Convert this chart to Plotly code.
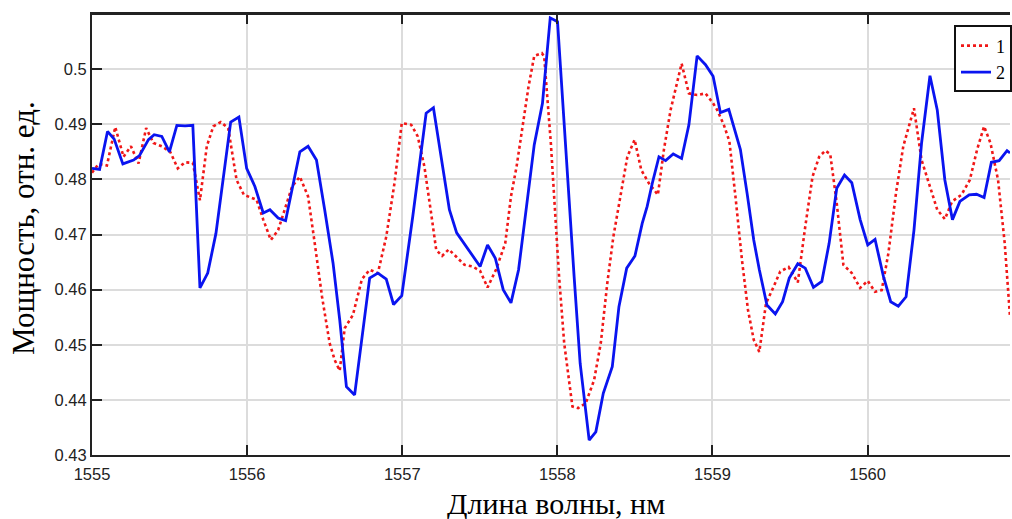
import plotly.graph_objects as go

# Curve 1 (red, dotted): wavelength, nm / power, rel. units
wl_1 = [1555.000, 1555.042, 1555.096, 1555.150, 1555.203, 1555.251, 1555.300, 1555.349,
        1555.396, 1555.450, 1555.504, 1555.553, 1555.600, 1555.650, 1555.696, 1555.740,
        1555.782, 1555.830, 1555.878, 1555.932, 1555.979, 1556.061, 1556.104, 1556.153,
        1556.200, 1556.243, 1556.290, 1556.340, 1556.393, 1556.436, 1556.483, 1556.532,
        1556.565, 1556.597, 1556.629, 1556.682, 1556.740, 1556.790, 1556.843, 1556.897,
        1556.950, 1556.997, 1557.058, 1557.100, 1557.143, 1557.186, 1557.219, 1557.257,
        1557.300, 1557.347, 1557.401, 1557.454, 1557.502, 1557.550, 1557.604, 1557.664,
        1557.701, 1557.737, 1557.776, 1557.814, 1557.851, 1557.900, 1557.915, 1557.958,
        1558.011, 1558.044, 1558.097, 1558.134, 1558.183, 1558.237, 1558.280, 1558.322,
        1558.361, 1558.408, 1558.451, 1558.498, 1558.541, 1558.590, 1558.648, 1558.687,
        1558.730, 1558.801, 1558.848, 1558.901, 1558.955, 1559.004, 1559.030, 1559.073,
        1559.109, 1559.148, 1559.190, 1559.229, 1559.266, 1559.302, 1559.345, 1559.394,
        1559.437, 1559.491, 1559.550, 1559.598, 1559.645, 1559.688, 1559.727, 1559.759,
        1559.801, 1559.844, 1559.898, 1559.952, 1560.001, 1560.048, 1560.091, 1560.134,
        1560.183, 1560.230, 1560.299, 1560.348, 1560.402, 1560.449, 1560.498, 1560.545,
        1560.605, 1560.659, 1560.706, 1560.751, 1560.792, 1560.841, 1560.884, 1560.918]
pw_1 = [0.4812, 0.4828, 0.4825, 0.4895, 0.4841, 0.4860, 0.4829, 0.4893,
        0.4866, 0.4860, 0.4850, 0.4820, 0.4831, 0.4830, 0.4762, 0.4860,
        0.4896, 0.4904, 0.4893, 0.4799, 0.4772, 0.4763, 0.4727, 0.4690,
        0.4708, 0.4745, 0.4787, 0.4805, 0.4769, 0.4684, 0.4587, 0.4503,
        0.4472, 0.4453, 0.4530, 0.4554, 0.4619, 0.4636, 0.4630, 0.4696,
        0.4793, 0.4902, 0.4899, 0.4878, 0.4823, 0.4739, 0.4672, 0.4661,
        0.4673, 0.4660, 0.4645, 0.4642, 0.4634, 0.4604, 0.4636, 0.4684,
        0.4769, 0.4823, 0.4896, 0.4968, 0.5024, 0.5029, 0.5023, 0.4866,
        0.4624, 0.4503, 0.4388, 0.4385, 0.4394, 0.4436, 0.4503, 0.4612,
        0.4696, 0.4772, 0.4841, 0.4872, 0.4817, 0.4793, 0.4772, 0.4854,
        0.4926, 0.5010, 0.4956, 0.4953, 0.4956, 0.4938, 0.4926, 0.4899,
        0.4869, 0.4769, 0.4654, 0.4563, 0.4509, 0.4487, 0.4575, 0.4605,
        0.4633, 0.4641, 0.4613, 0.4714, 0.4805, 0.4841, 0.4852, 0.4846,
        0.4757, 0.4645, 0.4630, 0.4603, 0.4616, 0.4596, 0.4599, 0.4666,
        0.4775, 0.4860, 0.4929, 0.4835, 0.4787, 0.4745, 0.4728, 0.4760,
        0.4772, 0.4799, 0.4854, 0.4896, 0.4866, 0.4799, 0.4684, 0.4551]

# Curve 2 (blue, solid)
wl_2 = [1555.000, 1555.049, 1555.100, 1555.143, 1555.199, 1555.268, 1555.306, 1555.364,
        1555.401, 1555.450, 1555.499, 1555.547, 1555.600, 1555.650, 1555.696, 1555.746,
        1555.799, 1555.846, 1555.894, 1555.947, 1555.997, 1556.050, 1556.104, 1556.147,
        1556.200, 1556.248, 1556.296, 1556.340, 1556.393, 1556.447, 1556.500, 1556.554,
        1556.597, 1556.640, 1556.693, 1556.740, 1556.790, 1556.843, 1556.897, 1556.944,
        1556.997, 1557.068, 1557.154, 1557.201, 1557.251, 1557.304, 1557.351, 1557.412,
        1557.502, 1557.550, 1557.600, 1557.651, 1557.701, 1557.750, 1557.797, 1557.851,
        1557.904, 1557.954, 1558.001, 1558.065, 1558.108, 1558.147, 1558.205, 1558.248,
        1558.296, 1558.354, 1558.397, 1558.447, 1558.500, 1558.547, 1558.579, 1558.612,
        1558.655, 1558.698, 1558.747, 1558.801, 1558.848, 1558.901, 1558.955, 1559.004,
        1559.051, 1559.105, 1559.137, 1559.180, 1559.223, 1559.266, 1559.302, 1559.351,
        1559.405, 1559.452, 1559.495, 1559.550, 1559.598, 1559.651, 1559.705, 1559.752,
        1559.801, 1559.851, 1559.898, 1559.952, 1560.001, 1560.048, 1560.102, 1560.149,
        1560.198, 1560.248, 1560.299, 1560.348, 1560.402, 1560.449, 1560.498, 1560.547,
        1560.595, 1560.655, 1560.702, 1560.751, 1560.798, 1560.848, 1560.899, 1560.918]
pw_2 = [0.4820, 0.4818, 0.4887, 0.4873, 0.4828, 0.4835, 0.4843, 0.4872,
        0.4881, 0.4878, 0.4850, 0.4898, 0.4897, 0.4898, 0.4603, 0.4630,
        0.4702, 0.4805, 0.4904, 0.4913, 0.4820, 0.4787, 0.4739, 0.4745,
        0.4730, 0.4725, 0.4787, 0.4850, 0.4860, 0.4835, 0.4745, 0.4648,
        0.4545, 0.4424, 0.4409, 0.4515, 0.4621, 0.4630, 0.4619, 0.4573,
        0.4589, 0.4733, 0.4920, 0.4930, 0.4841, 0.4745, 0.4703, 0.4678,
        0.4642, 0.4681, 0.4657, 0.4600, 0.4576, 0.4636, 0.4739, 0.4863,
        0.4938, 0.5093, 0.5086, 0.4805, 0.4624, 0.4466, 0.4327, 0.4342,
        0.4412, 0.4460, 0.4569, 0.4639, 0.4661, 0.4720, 0.4751, 0.4793,
        0.4841, 0.4834, 0.4846, 0.4838, 0.4899, 0.5024, 0.5008, 0.4987,
        0.4921, 0.4927, 0.4896, 0.4854, 0.4775, 0.4690, 0.4636, 0.4572,
        0.4556, 0.4578, 0.4621, 0.4647, 0.4639, 0.4604, 0.4615, 0.4684,
        0.4784, 0.4808, 0.4794, 0.4727, 0.4681, 0.4691, 0.4624, 0.4578,
        0.4570, 0.4587, 0.4708, 0.4866, 0.4988, 0.4926, 0.4799, 0.4727,
        0.4760, 0.4772, 0.4773, 0.4767, 0.4831, 0.4834, 0.4852, 0.4848]

series_names = ["1", "2"]
x_tick_vals = [1555, 1556, 1557, 1558, 1559, 1560]
x_tick_text = ["1555", "1556", "1557", "1558", "1559", "1560"]
y_tick_vals = [0.43, 0.44, 0.45, 0.46, 0.47, 0.48, 0.49, 0.50]
y_tick_text = ["0.43", "0.44", "0.45", "0.46", "0.47", "0.48", "0.49", "0.5"]

x_title = "Длина волны, нм"
y_title = "Мощность, отн. ед."

fig = go.Figure()
fig.add_trace(go.Scatter(x=wl_1, y=pw_1, mode="lines", name=series_names[0],
                         line=dict(color="#f01818", width=2.6, dash="dot")))
fig.add_trace(go.Scatter(x=wl_2, y=pw_2, mode="lines", name=series_names[1],
                         line=dict(color="#0a14f0", width=2.8)))

tick_font = dict(family="Liberation Sans, Arial, sans-serif", size=16.5, color="#222222")
serif = "Liberation Serif, Times New Roman, serif"

fig.update_layout(
    width=1012, height=519,
    margin=dict(l=92, r=0, t=14, b=64),
    paper_bgcolor="white", plot_bgcolor="white",
    showlegend=True,
    legend=dict(x=0.9395, y=0.974, xanchor="left", yanchor="top",
                bgcolor="white", bordercolor="#111111", borderwidth=2,
                font=dict(family=serif, size=18, color="black"),
                tracegroupgap=0, itemwidth=30),
    xaxis=dict(range=[1555, 1560.918], tickvals=x_tick_vals, ticktext=x_tick_text,
               showgrid=True, gridcolor="#dcdcdc", gridwidth=1.5,
               showline=True, linecolor="#222222", linewidth=2, mirror="ticks",
               ticks="inside", ticklen=10, tickwidth=2, tickcolor="#222222",
               tickfont=tick_font, ticklabelstandoff=3, zeroline=False),
    yaxis=dict(range=[0.43, 0.51], tickvals=y_tick_vals, ticktext=y_tick_text,
               showgrid=True, gridcolor="#dcdcdc", gridwidth=1.5,
               showline=True, linecolor="#222222", linewidth=2,
               ticks="inside", ticklen=10, tickwidth=2, tickcolor="#222222",
               tickfont=tick_font, zeroline=False),
    annotations=[
        dict(text=x_title, xref="paper", yref="paper", x=0.505, y=0, yshift=-48,
             xanchor="center", yanchor="middle", showarrow=False,
             font=dict(family=serif, size=30, color="black")),
        dict(text=y_title, xref="paper", yref="paper", x=0, y=0.515, xshift=-68,
             xanchor="center", yanchor="middle", textangle=-90, showarrow=False,
             font=dict(family=serif, size=31, color="black")),
    ],
)

# top border line of the plotting box
fig.add_shape(type="line", xref="paper", yref="paper", x0=0, x1=1, y0=1, y1=1,
              line=dict(color="#222222", width=2))

fig.write_html("out.html")
